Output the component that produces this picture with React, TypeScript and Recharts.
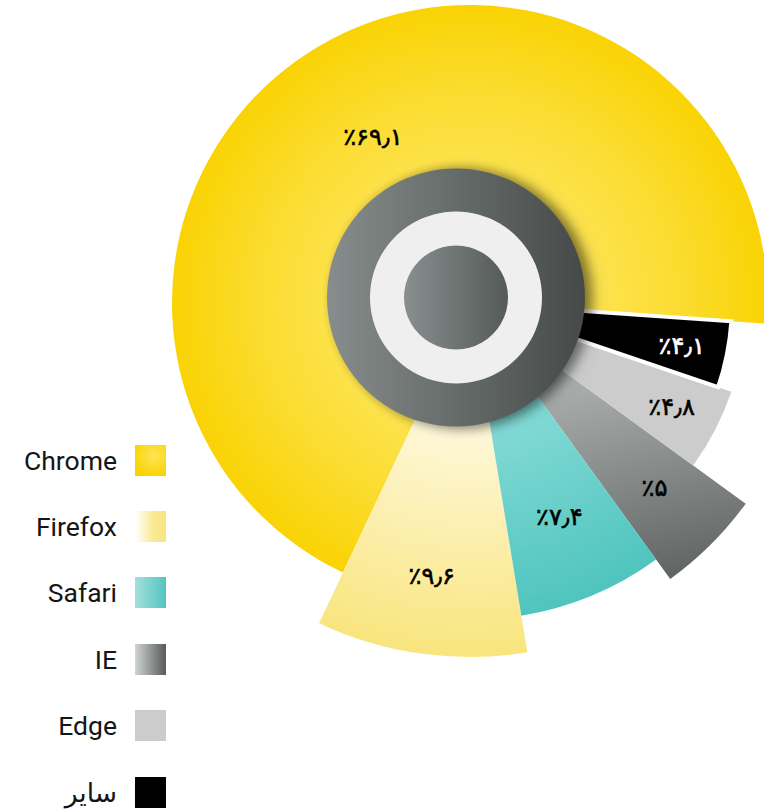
import { PieChart, Pie, Cell, Legend } from 'recharts';

const BROWSERS = ['Chrome', 'Firefox', 'Safari', 'IE', 'Edge', 'سایر'];
const SHARES = [69.1, 9.6, 7.4, 5, 4.8, 4.1];

const data = BROWSERS.map((name, i) => ({ name, value: SHARES[i] }));

// styling per slice (same order as BROWSERS)
const SLICE_FILL = ['url(#gChrome)', 'url(#gFirefox)', 'url(#gSafari)', 'url(#gIE)', '#cccccc', '#000000'];
const LABEL_FILL = ['#000', '#000', '#000', '#000', '#000', '#fff'];
const SLICE_R = [298, 354, 317, 341, 276, 262];
const LABEL_R = [192, 276, 232, 261, 227, 216];
const DRAW_ORDER = [0, 1, 3, 2, 4, 5];
const LEGEND_BG = [
  'radial-gradient(circle at 60% 35%, #fce556 0%, #f9d300 80%)',
  'linear-gradient(to right, #ffffff 0%, #f9e994 60%, #f8e582 100%)',
  'linear-gradient(to right, #a3e0dc 0%, #53c5bf 100%)',
  'linear-gradient(to right, #d0d4d4 0%, #565a58 100%)',
  '#cccccc',
  '#000000',
];

const CX = 470;
const CY = 303;
const RAD = Math.PI / 180;

const toFa = (v: number) =>
  '٪' + String(v).replace(/\d/g, (d) => '۰۱۲۳۴۵۶۷۸۹'[+d]).replace('.', '٫');

const labelFor = (k: number) => (p: any) => {
  if (p.index !== k) return null;
  const r = LABEL_R[k];
  const x = p.cx + r * Math.cos(-p.midAngle * RAD);
  const y = p.cy + r * Math.sin(-p.midAngle * RAD);
  return (
    <text
      x={x}
      y={y}
      textAnchor="middle"
      dominantBaseline="central"
      fill={LABEL_FILL[k]}
      stroke={LABEL_FILL[k]}
      strokeWidth={0.6}
      fontFamily="'DejaVu Sans', sans-serif"
      fontSize={24}
    >
      {toFa(p.value)}
    </text>
  );
};

function BrowserLegend() {
  return (
    <div style={{ width: 166 }}>
      {BROWSERS.map((name, i) => (
        <div
          key={name}
          style={{
            height: 66.4,
            display: 'flex',
            alignItems: 'center',
            justifyContent: 'flex-end',
          }}
        >
          <span
            style={{
              fontFamily: "Roboto, 'DejaVu Sans', sans-serif",
              fontSize: 26.5,
              color: '#151515',
              marginRight: 18,
            }}
          >
            {name}
          </span>
          <span style={{ width: 31, height: 31, background: LEGEND_BG[i], display: 'inline-block' }} />
        </div>
      ))}
    </div>
  );
}

export default function App() {
  return (
    <div style={{ position: 'absolute', left: 0, top: 0, width: 764, height: 809 }}>
      <style>{`.donut-ring { filter: drop-shadow(6px 1px 6px rgba(0,0,0,0.3)); }`}</style>
      <PieChart width={764} height={809} margin={{ top: 0, right: 0, bottom: 0, left: 0 }}>
        <defs>
          <radialGradient id="gChrome" gradientUnits="userSpaceOnUse" cx={CX} cy={CY} r={298}>
            <stop offset="0.4" stopColor="#fde453" />
            <stop offset="0.7" stopColor="#fbdc30" />
            <stop offset="1" stopColor="#f9d304" />
          </radialGradient>
          <radialGradient id="gFirefox" gradientUnits="userSpaceOnUse" cx={CX} cy={CY} r={354}>
            <stop offset="0.38" stopColor="#fef7d6" />
            <stop offset="1" stopColor="#f9e57e" />
          </radialGradient>
          <radialGradient id="gSafari" gradientUnits="userSpaceOnUse" cx={CX} cy={CY} r={317}>
            <stop offset="0.42" stopColor="#80d9d4" />
            <stop offset="1" stopColor="#50c4be" />
          </radialGradient>
          <linearGradient id="gIE" gradientUnits="userSpaceOnUse" x1={600} y1={380} x2={650} y2={600}>
            <stop offset="0" stopColor="#a9adac" />
            <stop offset="1" stopColor="#5a5e5d" />
          </linearGradient>
          <linearGradient id="gRing" x1="0" y1="0" x2="1" y2="0">
            <stop offset="0" stopColor="#878d8c" />
            <stop offset="1" stopColor="#454a48" />
          </linearGradient>
          <linearGradient id="gCore" x1="0" y1="0" x2="1" y2="0">
            <stop offset="0" stopColor="#898f8e" />
            <stop offset="1" stopColor="#555a58" />
          </linearGradient>
        </defs>

        {DRAW_ORDER.map((k) => (
          <Pie
            key={`slice-${k}`}
            data={data}
            dataKey="value"
            nameKey="name"
            cx={CX}
            cy={CY}
            outerRadius={SLICE_R[k]}
            startAngle={-4}
            endAngle={356}
            stroke="none"
            label={labelFor(k)}
            labelLine={false}
            isAnimationActive={false}
          >
            {data.map((d, i) => (
              <Cell
                key={d.name}
                fill={i === k ? SLICE_FILL[k] : 'none'}
                stroke={i === k && k === 5 ? '#ffffff' : 'none'}
                strokeWidth={i === k && k === 5 ? 4 : 0}
              />
            ))}
          </Pie>
        ))}

        <Pie
          data={[{ v: 1 }]}
          dataKey="v"
          cx={456}
          cy={297.5}
          innerRadius={85}
          outerRadius={129}
          startAngle={90}
          endAngle={450}
          fill="url(#gRing)"
          stroke="none"
          className="donut-ring"
          isAnimationActive={false}
        />
        <Pie
          data={[{ v: 1 }]}
          dataKey="v"
          cx={456}
          cy={297.5}
          innerRadius={51}
          outerRadius={86}
          startAngle={90}
          endAngle={450}
          fill="#efefef"
          stroke="none"
          isAnimationActive={false}
        />
        <Pie
          data={[{ v: 1 }]}
          dataKey="v"
          cx={456}
          cy={297.5}
          outerRadius={52}
          startAngle={90}
          endAngle={450}
          fill="url(#gCore)"
          stroke="none"
          isAnimationActive={false}
        />

        <Legend
          layout="vertical"
          align="center"
          verticalAlign="middle"
          wrapperStyle={{ left: 0, top: 427, width: 166 }}
          content={() => <BrowserLegend />}
        />
      </PieChart>
    </div>
  );
}
